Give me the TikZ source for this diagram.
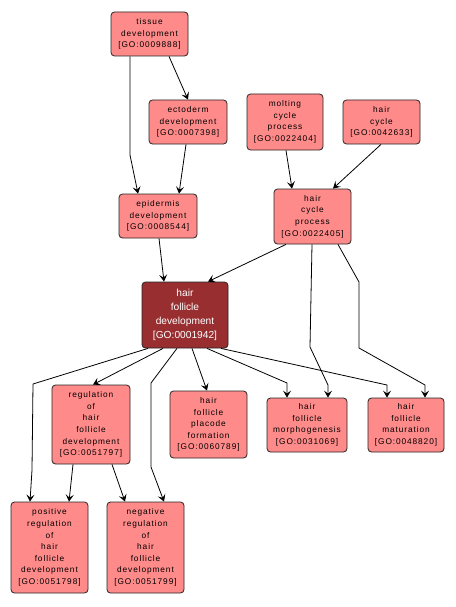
\documentclass[tikz,border=0pt]{standalone}
\usepackage{fontspec}
\newfontfamily\labfont[LetterSpace=11]{Liberation Sans}
\newfontfamily\darkfont{Liberation Sans}
\usetikzlibrary{arrows.meta}
\definecolor{gopink}{RGB}{255,138,138}
\definecolor{godark}{RGB}{152,46,48}
\tikzset{
  term/.style={draw=black!85, line width=0.8pt, fill=gopink, rounded corners=3.5pt,
    align=center, inner sep=0pt, font={\fontsize{8.3}{11.6}\selectfont\labfont}},
  hub/.style={term, fill=godark, text=white, font={\fontsize{10.2}{14}\selectfont\darkfont}},
  edge/.style={line width=0.8pt, -{Stealth[length=7pt,width=8pt,inset=3pt]}}
}
\begin{document}
\begin{tikzpicture}[x=1pt,y=-1pt]
\useasboundingbox[fill=white] (0,0) rectangle (455,607);
\node[term, minimum width=77pt, minimum height=44pt] (tissue) at (149.5,34) {tissue\\development\\{[GO:0009888]}};
\node[term, minimum width=78pt, minimum height=44pt] (ecto) at (188,122) {ectoderm\\development\\{[GO:0007398]}};
\node[term, minimum width=76pt, minimum height=56pt] (molt) at (285,122) {molting\\cycle\\process\\{[GO:0022404]}};
\node[term, minimum width=77pt, minimum height=44pt] (haircycle) at (381.5,122) {hair\\cycle\\{[GO:0042633]}};
\node[term, minimum width=77pt, minimum height=55pt] (hcp) at (312.5,216.5) {hair\\cycle\\process\\{[GO:0022405]}};
\node[term, minimum width=78pt, minimum height=44pt] (epi) at (158,216) {epidermis\\development\\{[GO:0008544]}};
\node[hub, minimum width=86pt, minimum height=66pt] (hfd) at (185,315) {hair\\follicle\\development\\{[GO:0001942]}};
\node[term, minimum width=78pt, minimum height=79pt] (reg) at (91,424.5) {regulation\\of\\hair\\follicle\\development\\{[GO:0051797]}};
\node[term, minimum width=77pt, minimum height=67pt] (placode) at (208.5,424.5) {hair\\follicle\\placode\\formation\\{[GO:0060789]}};
\node[term, minimum width=80pt, minimum height=54pt] (morph) at (307,425) {hair\\follicle\\morphogenesis\\{[GO:0031069]}};
\node[term, minimum width=76pt, minimum height=54pt] (matur) at (406,425) {hair\\follicle\\maturation\\{[GO:0048820]}};
\node[term, minimum width=77pt, minimum height=91pt] (pos) at (49.5,547.5) {positive\\regulation\\of\\hair\\follicle\\development\\{[GO:0051798]}};
\node[term, minimum width=77pt, minimum height=91pt] (neg) at (145.5,547.5) {negative\\regulation\\of\\hair\\follicle\\development\\{[GO:0051799]}};

\draw[edge] (tissue.south -| 130,0) -- (130,155) -- (epi.north -| 138,0);
\draw[edge] (tissue.south -| 169,0) -- (ecto.north -| 188,0);
\draw[edge] (ecto.south -| 186,0) -- (epi.north -| 179,0);
\draw[edge] (molt.south -| 286,0) -- (hcp.north -| 292,0);
\draw[edge] (haircycle.south -| 381,0) -- (hcp.north -| 333,0);
\draw[edge] (epi.south -| 159,0) -- (hfd.north -| 164,0);
\draw[edge] (hcp.south -| 286,0) -- (hfd.north -| 208,0);
\draw[edge] (hcp.south -| 312,0) -- (310,347) -- (328,385) -- (morph.north -| 328,0);
\draw[edge] (hcp.south -| 338,0) -- (359,282) -- (359,348) -- (425,385) -- (matur.north -| 425,0);
\draw[edge] (hfd.south -| 207,0) -- (287,383) -- (morph.north -| 287,0);
\draw[edge] (hfd.south -| 221,0) -- (387,385) -- (matur.north -| 387,0);
\draw[edge] (hfd.south -| 192,0) -- (placode.north -| 207,0);
\draw[edge] (hfd.south -| 163,0) -- (reg.north -| 93,0);
\draw[edge] (hfd.south -| 148,0) -- (33,384) -- (32,470) -- (pos.north -| 30,0);
\draw[edge] (hfd.south -| 177,0) -- (151,383) -- (151,467) -- (neg.north -| 164,0);
\draw[edge] (reg.south -| 73,0) -- (pos.north -| 69,0);
\draw[edge] (reg.south -| 112,0) -- (neg.north -| 125,0);
\end{tikzpicture}
\end{document}
